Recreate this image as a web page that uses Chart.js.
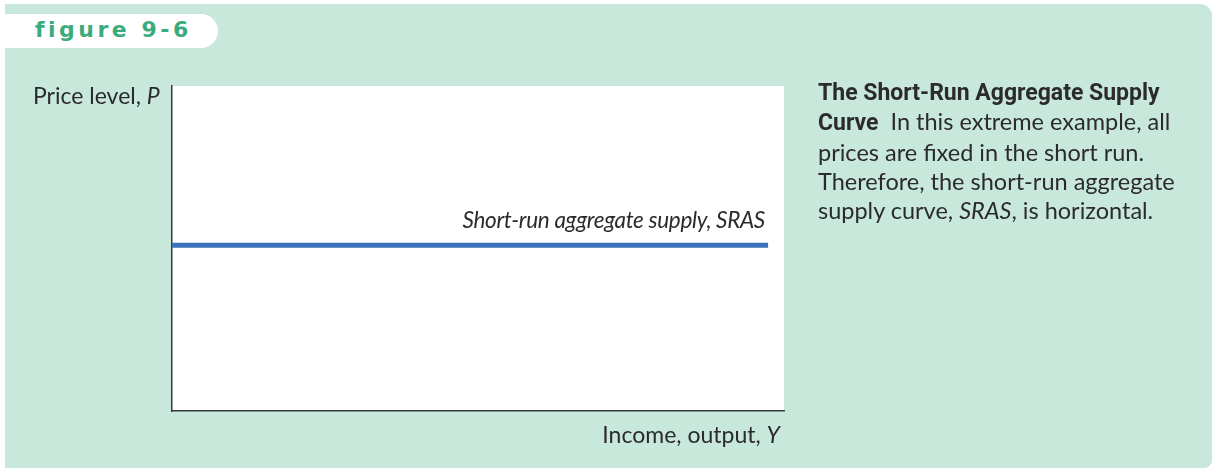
<!DOCTYPE html>
<html>
<head>
<meta charset="utf-8">
<script src="https://cdn.jsdelivr.net/npm/chart.js@4.4.1/dist/chart.umd.min.js"></script>
<style>
  html, body { margin: 0; padding: 0; background: #fff; }
  body { width: 1216px; height: 472px; position: relative; overflow: hidden; font-family: Lato, "Open Sans", sans-serif; color: #2b2a2e; }
  .panel { position: absolute; left: 5px; top: 4px; width: 1207px; height: 464px; background: #c9e8dc; border-radius: 0 12px 8px 0; }
  .tab { position: absolute; left: 5px; top: 14px; width: 213px; height: 34px; background: #fff; border-radius: 0 17px 17px 0; }
  .tab span { position: absolute; left: 30px; top: 3px; font: bold 22px "DejaVu Sans", sans-serif; letter-spacing: 3.5px; color: #3bab7e; }
  #wrap { position: absolute; left: 0; top: 0; width: 1216px; height: 472px; }
  .lbl { position: absolute; white-space: nowrap; font-size: 23px; }
  .note { position: absolute; left: 818px; top: 77px; font-size: 23.5px; line-height: 29.3px; white-space: nowrap; }
  .note b { font-family: Roboto, sans-serif; font-weight: bold; font-size: 23px; }
</style>
</head>
<body>
<div class="panel"></div>
<div class="tab"><span>figure 9-6</span></div>
<div id="wrap"><canvas id="c"></canvas></div>
<div class="lbl" style="left:33px;top:81px;">Price level, <i>P</i></div>
<div class="lbl" style="right:436px;top:420px;">Income, output, <i>Y</i></div>
<div class="lbl" style="right:451px;top:206px;font-style:italic;font-size:22.5px;letter-spacing:-0.3px;">Short-run aggregate supply, SRAS</div>
<div class="note"><b>The Short-Run Aggregate Supply<br>Curve</b>&nbsp; In this extreme example, all<br>prices are fixed in the short run.<br>Therefore, the short-run aggregate<br>supply curve, <i>SRAS</i>, is horizontal.</div>
<script>
// income / output (x) and price level (y) for the SRAS line
const outputY = [0, 9.74]
const priceP = [5.1, 5.1]
const xRange = [0, 10]
const yRange = [0, 10]

const whiteArea = {
  id: 'whiteArea',
  beforeDraw(chart) {
    const { ctx, chartArea: a } = chart
    ctx.save()
    ctx.fillStyle = '#ffffff'
    ctx.fillRect(a.left, a.top, a.right - a.left, a.bottom - a.top)
    ctx.restore()
  }
}

new Chart(document.getElementById('c'), {
  type: 'line',
  data: {
    datasets: [{
      label: 'SRAS',
      data: outputY.map((x, i) => ({ x, y: priceP[i] })),
      borderColor: '#3a73b9',
      borderWidth: 5,
      pointRadius: 0,
      borderCapStyle: 'butt'
    }]
  },
  options: {
    responsive: true,
    maintainAspectRatio: false,
    animation: false,
    layout: { padding: { left: 164, top: 86, right: 432, bottom: 53 } },
    plugins: { legend: { display: false }, tooltip: { enabled: false } },
    scales: {
      x: {
        type: 'linear', min: xRange[0], max: xRange[1],
        grid: { display: false },
        ticks: { display: false },
        border: { display: true, color: '#3a3a3a', width: 1.5 }
      },
      y: {
        type: 'linear', min: yRange[0], max: yRange[1],
        grid: { display: false },
        ticks: { display: false },
        border: { display: true, color: '#3a3a3a', width: 1.5 }
      }
    }
  },
  plugins: [whiteArea]
})
</script>
</body>
</html>
